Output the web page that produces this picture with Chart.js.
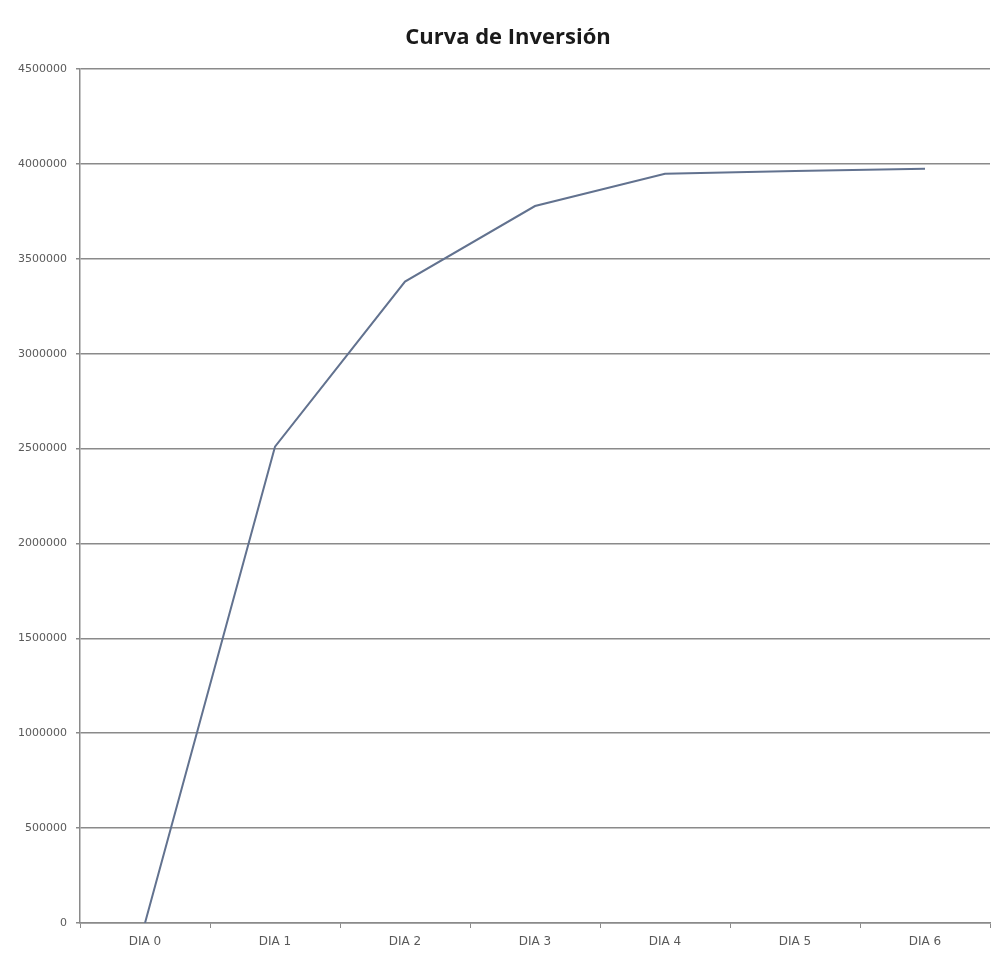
<!doctype html>
<html lang="es">
  <head>
    <meta charset="utf-8">
    <title>Curva de Inversión</title>
    <style>
      * {
        margin: 0;
        padding: 0;
      }
      body {
        background: #ffffff;
      }
      .chartBox {
        width: 1006px;
        height: 955px;
      }
    </style>
  </head>
  <body>
    <div class="chartBox">
      <canvas id="myChart"></canvas>
    </div>
    <script src="https://cdn.jsdelivr.net/npm/chart.js"></script>
    <script>
    // data
    const dias = ['DIA 0', 'DIA 1', 'DIA 2', 'DIA 3', 'DIA 4', 'DIA 5', 'DIA 6'];
    const inversion = [0, 2510000, 3380000, 3778000, 3948000, 3963000, 3975000];
    const yMin = 0;
    const yMax = 4500000;
    const yStep = 500000;
    const chartTitle = 'Curva de Inversión';

    const gridColor = '#8a8a8a';
    const textColor = '#5a5a5a';

    // title centred on the whole picture, like the spreadsheet one
    const titlePlugin = {
      id: 'sheetTitle',
      afterDraw(chart) {
        const ctx = chart.ctx;
        ctx.save();
        ctx.font = 'bold 22px "Open Sans"';
        ctx.fillStyle = '#1a1a1a';
        ctx.textAlign = 'center';
        ctx.textBaseline = 'alphabetic';
        ctx.fillText(chartTitle, 508, 44);
        ctx.restore();
      }
    };

    // config
    const config = {
      type: 'line',
      data: {
        labels: dias,
        datasets: [{
          label: 'Inversión',
          data: inversion,
          borderColor: '#62728f',
          borderWidth: 2,
          pointRadius: 0,
          tension: 0,
          fill: false
        }]
      },
      options: {
        responsive: true,
        maintainAspectRatio: false,
        animation: false,
        layout: {
          padding: { top: 69, right: 16, bottom: 0, left: 0 }
        },
        plugins: {
          legend: { display: false },
          tooltip: { enabled: false },
          title: { display: false }
        },
        scales: {
          x: {
            offset: true,
            afterFit: (scale) => { scale.height = 32; },
            grid: {
              offset: true,
              drawOnChartArea: false,
              drawTicks: true,
              tickLength: 5,
              color: gridColor
            },
            border: { display: true, color: gridColor, width: 1.5 },
            ticks: {
              color: textColor,
              padding: 7,
              maxRotation: 0,
              font: { family: 'DejaVu Sans', size: 12 }
            }
          },
          y: {
            min: yMin,
            max: yMax,
            afterFit: (scale) => { scale.width = 80; },
            grid: {
              color: gridColor,
              lineWidth: 1.5,
              tickLength: 4
            },
            border: { display: true, color: gridColor, width: 1.5 },
            ticks: {
              stepSize: yStep,
              color: textColor,
              padding: 9,
              font: { family: 'DejaVu Sans', size: 11 },
              callback: (v) => String(v)
            }
          }
        }
      },
      plugins: [titlePlugin]
    };

    // render
    const myChart = new Chart(document.getElementById('myChart'), config);
    </script>
  </body>
</html>
